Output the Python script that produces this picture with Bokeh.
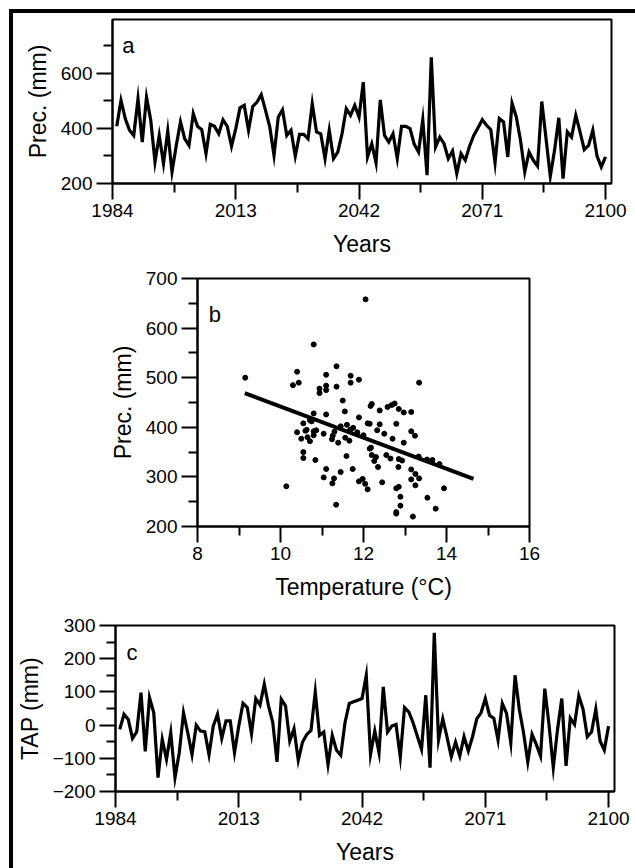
from bokeh.plotting import figure
from bokeh.layouts import column
from bokeh.models import FixedTicker, Range1d, Label
from bokeh.embed import file_html
from bokeh.resources import INLINE

# ---------------- data ----------------
years = list(range(1985, 2101))

prec = [407, 501, 435, 393, 374, 507, 350, 513, 429, 278,
        374, 272, 390, 242, 338, 423, 362, 338, 453, 407,
        395, 308, 414, 407, 380, 431, 407, 335, 399, 474,
        483, 393, 479, 495, 522, 465, 405, 302, 441, 467,
        374, 393, 299, 378, 378, 362, 489, 387, 380, 290,
        393, 290, 314, 380, 471, 447, 483, 441, 567, 296,
        344, 275, 503, 374, 350, 380, 290, 407, 407, 399,
        342, 314, 431, 230, 657, 332, 368, 344, 290, 318,
        236, 308, 284, 335, 374, 402, 431, 411, 395, 275,
        435, 423, 296, 491, 441, 356, 242, 314, 284, 263,
        497, 362, 226, 320, 438, 218, 387, 368, 447, 387,
        323, 338, 393, 299, 260, 296]

tap = [-13, 33, 17, -40, -20, 98, -79, 83, 37, -158,
       -43, -103, -23, -158, -83, 37, -23, -89, 0, -18,
       -20, -89, -3, 33, -40, 13, 13, -83, -3, 66,
       53, -26, 80, 60, 123, 58, 8, -111, 78, 58,
       -48, -11, -106, -51, -28, -16, 100, -31, -21, -119,
       -31, -76, -91, 8, 65, 70, 75, 80, 150, -88,
       -18, -83, 115, -21, -3, 2, -96, 53, 40, 8,
       -33, -73, 90, -128, 278, -45, 19, -36, -95, -51,
       -93, -35, -78, -35, 19, 37, 80, 29, 21, -45,
       65, 35, -53, 150, 48, -23, -111, -28, -58, -93,
       110, 0, -128, -13, 80, -123, 21, 2, 88, 48,
       -35, -21, 48, -48, -75, -3]

temp = [12.05, 10.8, 11.35, 9.15, 10.4, 10.44, 10.3, 11.1, 11.1, 11.1,
        10.94, 10.94, 11.35, 11.69, 11.69, 11.89, 11.5, 13.34, 11.55, 10.8,
        11.1, 11.89, 12.17, 12.2, 12.39, 12.58, 12.75, 12.68, 12.85, 12.97,
        13.15, 10.71, 10.75, 10.55, 10.6, 10.4, 10.5, 10.65, 10.71, 10.8,
        10.86, 10.8, 11.04, 11.3, 11.26, 11.24, 11.39, 11.45, 11.56, 11.6,
        11.66, 11.75, 11.68, 12.0, 12.1, 12.15, 12.39, 12.33, 12.5, 12.7,
        12.79, 13.15, 13.24, 12.97, 12.15, 12.18, 12.2, 12.26, 12.3, 12.35,
        12.55, 12.65, 12.93, 12.84, 13.33, 13.53, 13.83, 10.55, 10.55, 10.84,
        11.59, 11.1, 11.04, 11.29, 11.25, 11.45, 11.74, 11.89, 11.98, 12.04,
        12.1, 12.45, 13.15, 13.25, 13.15, 13.34, 13.25, 12.79, 12.85, 12.89,
        12.89, 12.79, 12.79, 13.19, 13.54, 13.74, 13.94, 10.14, 11.34, 12.85,
        13.66, 10.63, 11.85]

prec_s = [658, 567, 523, 500, 512, 490, 485, 506, 484, 475,
          478, 469, 482, 504, 490, 496, 454, 490, 432, 428,
          426, 420, 443, 447, 434, 441, 448, 445, 437, 430,
          431, 414, 412, 408, 393, 390, 377, 380, 372, 392,
          394, 384, 387, 391, 383, 376, 369, 402, 379, 405,
          373, 399, 395, 384, 408, 407, 406, 394, 387, 377,
          407, 392, 383, 369, 357, 359, 344, 332, 340, 320,
          344, 337, 333, 320, 341, 335, 326, 350, 338, 334,
          342, 316, 299, 297, 287, 310, 316, 291, 296, 286,
          275, 289, 315, 306, 295, 297, 283, 277, 280, 260,
          242, 229, 226, 220, 258, 236, 277, 281, 244, 336,
          334, 395, 390]

fit_t = [9.14, 14.65]
fit_p = [469, 296]

year_ticks = [1984, 2013, 2042, 2071, 2100]
year_minor = [1998.5, 2027.5, 2056.5, 2085.5]
prec_ticks = [200, 400, 600]
prec_minor = [300, 500, 700]
b_x_ticks = [8, 10, 12, 14, 16]
b_x_minor = [9, 11, 13, 15]
b_y_ticks = [200, 300, 400, 500, 600, 700]
b_y_minor = [250, 350, 450, 550, 650]
tap_ticks = [-200, -100, 0, 100, 200, 300]
tap_minor = [-150, -50, 50, 150, 250]

FONT = "Liberation Sans"


def style(p):
    p.outline_line_color = "black"
    p.outline_line_width = 2
    p.grid.visible = False
    p.background_fill_color = "white"
    p.border_fill_color = "white"
    for ax in (p.xaxis[0], p.yaxis[0]):
        ax.axis_line_width = 2
        ax.major_tick_line_width = 2
        ax.minor_tick_line_width = 2
        ax.major_tick_out = 16
        ax.major_tick_in = 0
        ax.minor_tick_out = 9
        ax.minor_tick_in = 0
        ax.major_label_text_font = FONT
        ax.major_label_text_font_size = "19px"
        ax.major_label_text_color = "black"
        ax.major_label_standoff = 4
        ax.axis_label_text_font = FONT
        ax.axis_label_text_font_size = "23px"
        ax.axis_label_text_font_style = "normal"
        ax.axis_label_text_color = "black"
    p.xaxis[0].axis_label_standoff = 11
    p.yaxis[0].axis_label_standoff = 7


def letter(p, x, y, t):
    p.add_layout(Label(x=x, y=y, text=t, text_font=FONT, text_font_size="22px",
                       text_color="black", text_baseline="alphabetic", text_align="left"))


common = dict(output_backend="svg", toolbar_location=None, frame_align=False)

# ---------------- panel a ----------------
pa = figure(frame_width=499, frame_height=164,
            x_range=Range1d(1984, 2101.4), y_range=Range1d(200, 794),
            min_border_left=99, min_border_right=40, min_border_top=6, min_border_bottom=80,
            **common)
pa.line(years, prec, line_color="black", line_width=3.2, line_join="miter")
style(pa)
pa.xaxis[0].ticker = FixedTicker(ticks=year_ticks, minor_ticks=year_minor)
pa.yaxis[0].ticker = FixedTicker(ticks=prec_ticks, minor_ticks=prec_minor)
pa.xaxis[0].axis_label = "Years"
pa.yaxis[0].axis_label = "Prec. (mm)"
letter(pa, 1986.3, 700, "a")

# ---------------- panel b ----------------
pb = figure(frame_width=332, frame_height=248,
            x_range=Range1d(8, 16), y_range=Range1d(200, 700),
            min_border_left=184, min_border_right=123, min_border_top=15, min_border_bottom=80,
            **common)
pb.scatter(temp, prec_s, marker="circle", size=5, fill_color="black", line_color="black")
pb.line(fit_t, fit_p, line_color="black", line_width=4)
style(pb)
pb.xaxis[0].ticker = FixedTicker(ticks=b_x_ticks, minor_ticks=b_x_minor)
pb.yaxis[0].ticker = FixedTicker(ticks=b_y_ticks, minor_ticks=b_y_minor)
pb.xaxis[0].axis_label = "Temperature (°C)"
pb.yaxis[0].axis_label = "Prec. (mm)"
letter(pb, 8.27, 628, "b")

# ---------------- panel c ----------------
pc = figure(frame_width=499, frame_height=166,
            x_range=Range1d(1984, 2101.4), y_range=Range1d(-200, 300),
            min_border_left=99, min_border_right=40, min_border_top=19, min_border_bottom=80,
            **common)
pc.line(years, tap, line_color="black", line_width=3.2, line_join="miter")
style(pc)
pc.xaxis[0].ticker = FixedTicker(ticks=year_ticks, minor_ticks=year_minor)
pc.yaxis[0].ticker = FixedTicker(ticks=tap_ticks, minor_ticks=tap_minor)
pc.xaxis[0].axis_label = "Years"
pc.yaxis[0].axis_label = "TAP (mm)"
letter(pc, 1986.6, 219, "c")

layout = column(pa, pb, pc, spacing=0,
                styles={"border-left": "4px solid black", "border-top": "4px solid black",
                        "background-color": "white"},
                margin=(9, 0, 0, 9))

html = file_html(layout, INLINE, title="chart")
html = html.replace("<html", '<html style="overflow:hidden;background:white"', 1)
html = html.replace("<body>", '<body style="margin:0;overflow:hidden;background:white">', 1)
with open("out.html", "w") as f:
    f.write(html)
